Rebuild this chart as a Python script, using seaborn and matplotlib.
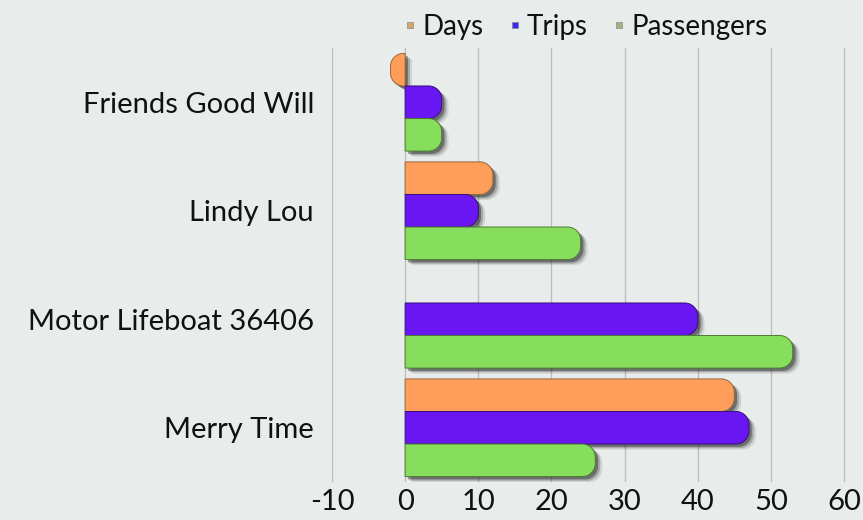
import numpy as np
import pandas as pd
import matplotlib
matplotlib.use("Agg")
import matplotlib.pyplot as plt
import matplotlib.patheffects as pe
from matplotlib.path import Path
from matplotlib.patches import PathPatch
from matplotlib.lines import Line2D
import seaborn as sns

# ---- data ----
categories = ["Friends Good Will", "Lindy Lou", "Motor Lifeboat 36406", "Merry Time"]
series = ["Days", "Trips", "Passengers"]
days = [-2, 12, 0, 45]
trips = [5, 10, 40, 47]
passengers = [5, 24, 53, 26]
x_ticks = [-10, 0, 10, 20, 30, 40, 50, 60]

colors = {"Days": "#FF9E5A", "Trips": "#6A16F2", "Passengers": "#86DE5C"}
edge_colors = {"Days": "#9A6438", "Trips": "#34107A", "Passengers": "#4A7A32"}
legend_marker_colors = {"Days": "#D6A468", "Trips": "#3A2AF0", "Passengers": "#A8AE82"}

df = pd.DataFrame({
    "category": np.repeat(categories, len(series)),
    "series": series * len(categories),
    "value": [v for trio in zip(days, trips, passengers) for v in trio],
})

bg = "#E8EDEB"
sns.set_theme(style="white")
plt.rcParams["font.family"] = ["Lato", "DejaVu Sans"]

fig = plt.figure(figsize=(8.63, 5.2), dpi=100, facecolor=bg)
ax = fig.add_axes([332 / 863, 1 - 482 / 520, 1 - 332 / 863, (482 - 48) / 520])
ax.set_facecolor(bg)

sns.barplot(data=df, y="category", x="value", hue="series", hue_order=series,
            order=categories, palette=colors, width=0.9, orient="h",
            ax=ax, legend=False, saturation=1)

ax.set_xlim(-10, 62.6)
ax.set_ylim(3.5, -0.5)
fig.canvas.draw()

# pixel -> data scale
px_per_x = ax.bbox.width / (ax.get_xlim()[1] - ax.get_xlim()[0])
px_per_y = ax.bbox.height / abs(ax.get_ylim()[1] - ax.get_ylim()[0])
r_px = 13
k = 0.5523

def rounded_path(x0, w, yb, h):
    x1 = x0 + w
    sgn = 1 if w >= 0 else -1
    rx = min(r_px / px_per_x, abs(w))
    ry = min(r_px / px_per_y, h / 2)
    yt = yb + h
    ex = x1 - sgn * rx
    verts = [
        (x0, yb),
        (ex, yb),
        (ex + sgn * rx * k, yb), (x1, yb + ry * (1 - k)), (x1, yb + ry),
        (x1, yt - ry),
        (x1, yt - ry * (1 - k)), (ex + sgn * rx * k, yt), (ex, yt),
        (x0, yt),
        (x0, yb),
    ]
    codes = [Path.MOVETO, Path.LINETO,
             Path.CURVE4, Path.CURVE4, Path.CURVE4,
             Path.LINETO,
             Path.CURVE4, Path.CURVE4, Path.CURVE4,
             Path.LINETO, Path.CLOSEPOLY]
    return Path(verts, codes)

patches = list(ax.patches)
for i, p in enumerate(patches):
    s = series[i // len(categories)]
    x0, yb, w, h = p.get_x(), p.get_y(), p.get_width(), p.get_height()
    p.set_visible(False)
    if w == 0 or np.isnan(w):
        continue
    pp = PathPatch(rounded_path(x0, w, yb, h), facecolor=colors[s],
                   edgecolor=edge_colors[s], linewidth=0.7, zorder=3,
                   path_effects=[
                       pe.SimplePatchShadow(offset=(5, -4), shadow_rgbFace="#000000", alpha=0.10),
                       pe.SimplePatchShadow(offset=(3.5, -3), shadow_rgbFace="#000000", alpha=0.20),
                       pe.SimplePatchShadow(offset=(2, -2), shadow_rgbFace="#000000", alpha=0.35),
                       pe.Normal()])
    ax.add_patch(pp)

ax.set_xticks(x_ticks)
ax.set_xticklabels([str(t) for t in x_ticks])
ax.grid(axis="x", color="#BDBFBE", linewidth=1, zorder=0)
ax.grid(axis="y", visible=False)
ax.set_axisbelow(True)
for sp in ax.spines.values():
    sp.set_visible(False)
ax.set_xlabel("")
ax.set_ylabel("")
ax.tick_params(axis="y", length=0, pad=13, labelsize=21, labelcolor="#111111")
ax.tick_params(axis="x", length=0, pad=5, labelsize=21, labelcolor="#111111")

handles = [Line2D([0], [0], marker="s", linestyle="none", markersize=5,
                  markerfacecolor=legend_marker_colors[s], markeredgecolor="#888888",
                  markeredgewidth=0.5) for s in series]
fig.legend(handles, series, loc="center", bbox_to_anchor=(586 / 863, 1 - 27 / 520),
           ncol=3, frameon=False, fontsize=20, handlelength=0.4, handletextpad=0.25,
           columnspacing=0.9, labelcolor="#111111")

fig.savefig("out.png", dpi=100, facecolor=bg)
